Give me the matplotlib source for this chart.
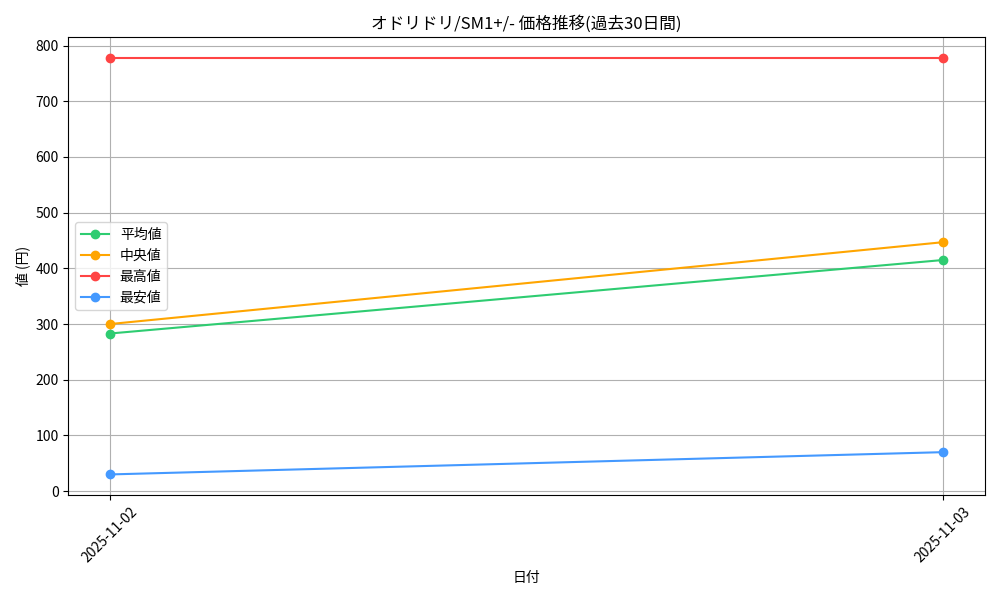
import matplotlib
matplotlib.use("Agg")
import matplotlib.pyplot as plt

plt.rcParams['font.family'] = ['Noto Sans CJK JP', 'DejaVu Sans']

dates = ["2025-11-02", "2025-11-03"]
avg_price = [283, 415]
median_price = [300, 447]
max_price = [778, 778]
min_price = [30, 70]


def main():
    fig, ax = plt.subplots(figsize=(10, 6), dpi=100)
    ax.plot(dates, avg_price, marker="o", color="#2ecc71", label="平均値")
    ax.plot(dates, median_price, marker="o", color="#ffa500", label="中央値")
    ax.plot(dates, max_price, marker="o", color="#ff4444", label="最高値")
    ax.plot(dates, min_price, marker="o", color="#4499ff", label="最安値")

    ax.set_title("オドリドリ/SM1+/- 価格推移(過去30日間)")
    ax.set_xlabel("日付")
    ax.set_ylabel("値 (円)")
    ax.grid(True)
    ax.legend(loc="center left")
    plt.xticks(rotation=45)
    plt.tight_layout()
    plt.savefig("out.png")
    plt.close()


if __name__ == "__main__":
    main()
